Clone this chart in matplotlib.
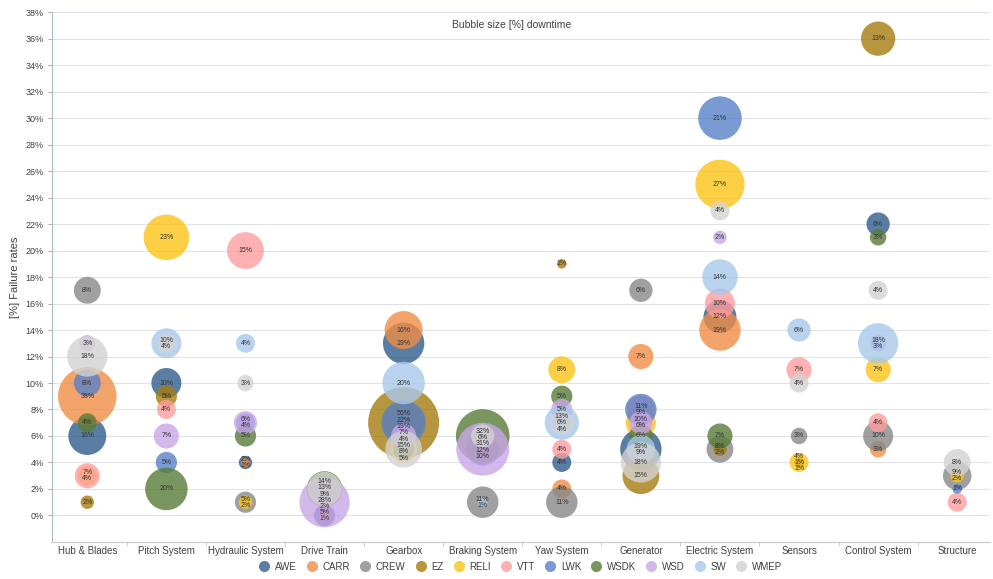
import matplotlib.pyplot as plt
from matplotlib.lines import Line2D

categories = ["Hub & Blades", "Pitch System", "Hydraulic System", "Drive Train",
              "Gearbox", "Braking System", "Yaw System", "Generator",
              "Electric System", "Sensors", "Control System", "Structure"]

series = ["AWE", "CARR", "CREW", "EZ", "RELI", "VTT", "LWK", "WSDK", "WSD", "SW", "WMEP"]

# failure rate [%] (y) and downtime [%] (bubble size) per category, None = no data
awe_rate = [6, 10, 4, 0, 13, 5, 4, 5, 15, 4, 22, None]
awe_down = [16, 10, 2, 5, 19, 10, 4, 19, 12, 1, 6, None]
carr_rate = [9, None, 4, 0, 14, None, 2, 12, 14, None, 5, None]
carr_down = [38, None, 1, 1, 16, None, 4, 7, 19, None, 3, None]
crew_rate = [17, None, 1, 2, 7, 1, 1, 17, 5, 6, 6, 3]
crew_down = [8, None, 5, 9, 19, 11, 11, 6, 8, 3, 10, 9]
ez_rate = [1, 9, None, None, 7, None, 19, 3, 5, 4, 36, None]
ez_down = [2, 5, None, None, 56, None, 1, 15, 2, 1, 13, None]
reli_rate = [3, 21, 1, 1, 5, None, 11, 7, 25, 4, 11, 3]
reli_down = [4, 23, 2, 2, 8, None, 8, 10, 27, 4, 7, 2]
vtt_rate = [3, 8, 20, None, 6, None, 5, 8, 16, 11, 7, 1]
vtt_down = [7, 4, 15, None, 4, None, 4, 9, 10, 7, 4, 4]
lwk_rate = [10, 4, 7, None, 7, 5, 7, 8, 30, None, None, 2]
lwk_down = [8, 5, 4, None, 22, 12, 4, 11, 21, None, None, 1]
wsdk_rate = [7, 2, 6, 2, 5, 6, 9, 6, 6, None, 21, None]
wsdk_down = [4, 20, 5, 14, 5, 32, 5, 6, 7, None, 3, None]
wsd_rate = [13, 6, 7, 1, 6, 5, 8, 7, 21, None, 13, None]
wsd_down = [3, 7, 6, 28, 7, 31, 5, 6, 2, None, 3, None]
sw_rate = [None, 13, 13, None, 10, 1, 7, 5, 18, 14, 13, None]
sw_down = [None, 10, 4, None, 20, 1, 13, 9, 14, 6, 18, None]
wmep_rate = [12, 13, 10, 2, 5, 6, 7, 4, 23, 10, 17, 4]
wmep_down = [18, 4, 3, 13, 15, 6, 6, 18, 4, 4, 4, 8]

rates = [awe_rate, carr_rate, crew_rate, ez_rate, reli_rate, vtt_rate,
         lwk_rate, wsdk_rate, wsd_rate, sw_rate, wmep_rate]
downs = [awe_down, carr_down, crew_down, ez_down, reli_down, vtt_down,
         lwk_down, wsdk_down, wsd_down, sw_down, wmep_down]

colors = ["#315E8C", "#F18D45", "#888888", "#A67C0F", "#FCC415", "#FF9C9C",
          "#5981C9", "#597C38", "#C9A6E7", "#A8C9EB", "#D3D3D3"]

SIZE_SCALE = 46.7   # scatter area (pt^2) per % downtime
LABEL_GAP = 0.48    # vertical spacing of stacked labels, in % units


def stack_labels(items, gap=LABEL_GAP):
    # items: (rate, downtime); spread labels that would sit on top of each other
    items = sorted(items, key=lambda t: (-t[0], -t[1]))
    groups = []
    for y, v in items:
        if groups and groups[-1][0][0] == y:
            groups[-1].append((y, v))
        else:
            groups.append([(y, v)])

    def extent(g):
        c = sum(p[0] for p in g) / len(g)
        half = (len(g) - 1) / 2 * gap
        return c, c + half, c - half

    merged = True
    while merged:
        merged = False
        for i in range(len(groups) - 1):
            _, _, low_a = extent(groups[i])
            _, high_b, _ = extent(groups[i + 1])
            if low_a - high_b < 0.7 * gap:
                groups[i] = groups[i] + groups[i + 1]
                del groups[i + 1]
                merged = True
                break
    out = []
    for g in groups:
        _, top, _ = extent(g)
        for k, (y, v) in enumerate(g):
            out.append((top - k * gap, v))
    return out


def main():
    plt.rcParams['font.family'] = ['Liberation Sans', 'DejaVu Sans']
    fig = plt.figure(figsize=(9.93, 5.79), dpi=100)
    ax = fig.add_axes([0.0524, 0.064, 0.945, 0.915])

    xs = list(range(1, len(categories) + 1))
    for name, rate, down, col in zip(series, rates, downs, colors):
        px = [x for x, r in zip(xs, rate) if r is not None]
        py = [r for r in rate if r is not None]
        ps = [d * SIZE_SCALE for d in down if d is not None]
        ax.scatter(px, py, s=ps, color=col, alpha=0.8, linewidths=0, zorder=3, label=name)

    # value labels, one stack per category
    for i, x in enumerate(xs):
        items = []
        for rate, down in zip(rates, downs):
            if rate[i] is not None:
                items.append((rate[i], down[i]))
        for y, v in stack_labels(items):
            ax.text(x, y, f"{v}%", ha='center', va='center', fontsize=5,
                    color='#333333', zorder=5)

    ax.set_xlim(0.554, 12.42)
    ax.set_ylim(-2, 38)
    ax.set_yticks(range(0, 39, 2))
    ax.set_yticklabels([f"{t}%" for t in range(0, 39, 2)], fontsize=6.5, color='#404040')
    ax.set_xticks(xs)
    ax.set_xticklabels(categories, fontsize=7, color='#404040')
    ax.set_xticks([x + 0.5 for x in xs[:-1]], minor=True)
    ax.tick_params(axis='x', which='major', length=0, pad=3)
    ax.tick_params(axis='x', which='minor', length=3, color='#c8c8c8')
    ax.tick_params(axis='y', length=3, color='#b0b0b0', pad=3)
    ax.yaxis.grid(True, color='#e2e2ea', linewidth=0.8, zorder=0)
    ax.set_axisbelow(True)
    for side in ['top', 'right']:
        ax.spines[side].set_visible(False)
    ax.spines['left'].set_color('#a9bbd0')
    ax.spines['bottom'].set_color('#c8c8c8')

    ax.set_ylabel('[%] Failure rates', fontsize=8, color='#404040', labelpad=4)
    ax.text(0.49, 0.975, 'Bubble size [%] downtime', transform=ax.transAxes,
            ha='center', va='center', fontsize=7.5, color='#404040')

    handles = [Line2D([], [], marker='o', linestyle='', markersize=8,
                      markerfacecolor=c, markeredgewidth=0, alpha=0.8) for c in colors]
    fig.legend(handles, series, loc='center', bbox_to_anchor=(0.522, 0.021),
               ncol=len(series), frameon=False, fontsize=7, handletextpad=0.1,
               columnspacing=0.55, labelcolor='#404040')

    fig.savefig('out.png', dpi=100)


if __name__ == '__main__':
    main()
